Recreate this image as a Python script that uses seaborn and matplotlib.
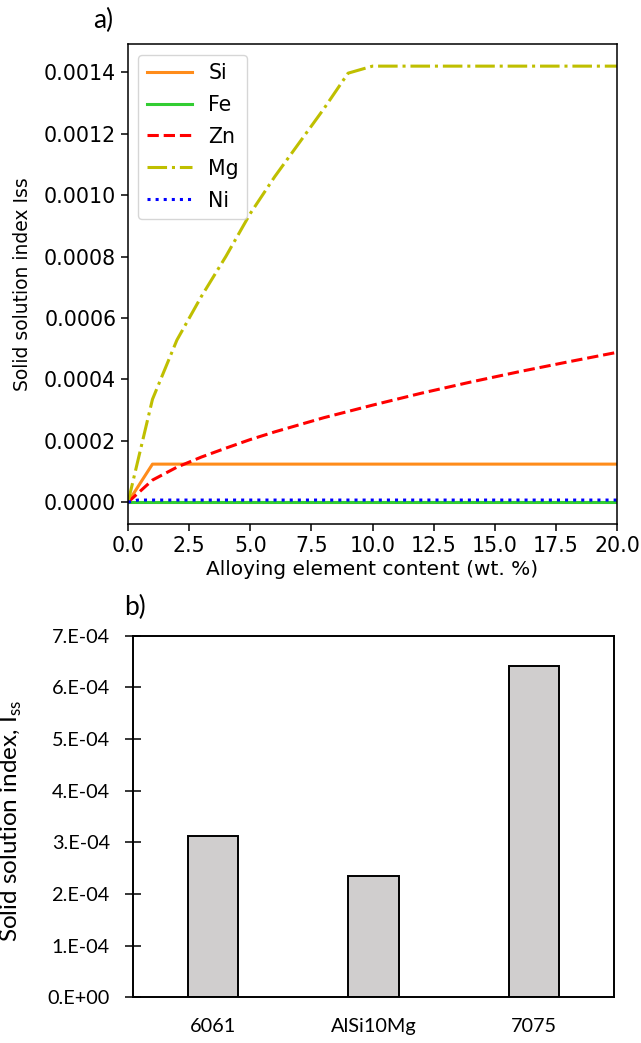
import numpy as np
import pandas as pd
import seaborn as sns
import matplotlib.pyplot as plt
from matplotlib.ticker import FuncFormatter, MultipleLocator

# --- panel a) : solid solution index vs alloying content (read off the figure)
si_x = [0, 1, 20]
si_y = [0, 0.000124, 0.000124]

fe_x = [0, 20]
fe_y = [0, 0]

zn_x = [0, 1, 2, 3, 4, 5, 6, 8, 10, 12, 14, 16, 18, 20]
zn_y = [0, 0.000072, 0.000114, 0.000147, 0.000176, 0.000204, 0.000229,
        0.000275, 0.000316, 0.000355, 0.000391, 0.000425, 0.000457, 0.000488]

mg_x = [0, 1, 2, 3, 4, 5, 6, 7, 8, 9, 10, 20]
mg_y = [0, 0.000335, 0.000528, 0.00067, 0.0008, 0.00094, 0.00106, 0.00117,
        0.00128, 0.001397, 0.00142, 0.00142]

ni_x = [0, 0.4, 20]
ni_y = [0, 0.000007, 0.000007]

# --- panel b) : alloys
alloys = ['6061', 'AlSi10Mg', '7075']
alloy_iss = [0.000313, 0.000234, 0.000641]

fig = plt.figure(figsize=(6.41, 10.43), dpi=100)

# top panel, matplotlib-looking line chart
ax1 = fig.add_axes([0.1997, 0.4976, 0.7629, 0.4599])
series = [
    ('Si', si_x, si_y, '#ff8c1a', '-'),
    ('Fe', fe_x, fe_y, 'limegreen', '-'),
    ('Zn', zn_x, zn_y, 'r', '--'),
    ('Mg', mg_x, mg_y, 'y', '-.'),
    ('Ni', ni_x, ni_y, 'b', ':'),
]
for name, xs, ys, col, ls in series:
    sns.lineplot(x=xs, y=ys, ax=ax1, color=col, linestyle=ls, linewidth=2.2,
                 label=name, estimator=None, sort=False)

ax1.set_xlim(0, 20)
ax1.xaxis.set_major_locator(MultipleLocator(2.5))
ax1.yaxis.set_major_locator(MultipleLocator(0.0002))
ax1.yaxis.set_major_formatter(FuncFormatter(lambda v, p: f'{v:.4f}'))
ax1.tick_params(labelsize=14.8, length=5, width=1.1)
for sp in ax1.spines.values():
    sp.set_linewidth(1.1)
ax1.set_xlabel('Alloying element content (wt. %)', fontsize=14.5, labelpad=3)
ax1.set_ylabel('Solid solution index Iss', fontsize=13.5)
ax1.yaxis.set_label_coords(-0.196, 0.5)
ax1.legend(loc='upper left', fontsize=14.8, handlelength=2.2,
           labelspacing=0.58)

# bottom panel, excel-looking bar chart
ax2 = fig.add_axes([0.207, 0.0438, 0.7513, 0.3467])
df = pd.DataFrame({'alloy': alloys, 'iss': alloy_iss})
sns.barplot(data=df, x='alloy', y='iss', ax=ax2, color='#d0cece',
            edgecolor='black', linewidth=1.4, width=0.316, saturation=1)
ax2.set_ylim(0, 0.0007)
ax2.set_xlim(-0.5, 2.5)
ax2.yaxis.set_major_locator(MultipleLocator(0.0001))


def excel_sci(v, pos):
    if abs(v) < 1e-12:
        return '0.E+00'
    e = int(np.floor(np.log10(abs(v)) + 1e-9))
    m = v / 10 ** e
    return f'{round(m):d}.E{e:+03d}'


ax2.yaxis.set_major_formatter(FuncFormatter(excel_sci))
for sp in ax2.spines.values():
    sp.set_linewidth(1.4)
ax2.tick_params(axis='y', direction='inout', length=11, width=1.1,
                labelsize=14.3, pad=11)
ax2.tick_params(axis='x', length=0, pad=15, labelsize=14.3)
for lab in ax2.get_xticklabels() + ax2.get_yticklabels():
    lab.set_family('Lato')
ax2.set_xlabel('')
ax2.set_ylabel(r'Solid solution index, I$_\mathregular{ss}$', fontsize=17.5,
               family='Lato')
ax2.yaxis.set_label_coords(-0.226, 0.487)

fig.text(93 / 641, 1 - 20 / 1043, 'a)', fontsize=19, family='Lato',
         va='center', ha='left')
fig.text(124 / 641, 1 - 607 / 1043, 'b)', fontsize=19, family='Lato',
         va='center', ha='left')

fig.savefig('out.png', dpi=100)
